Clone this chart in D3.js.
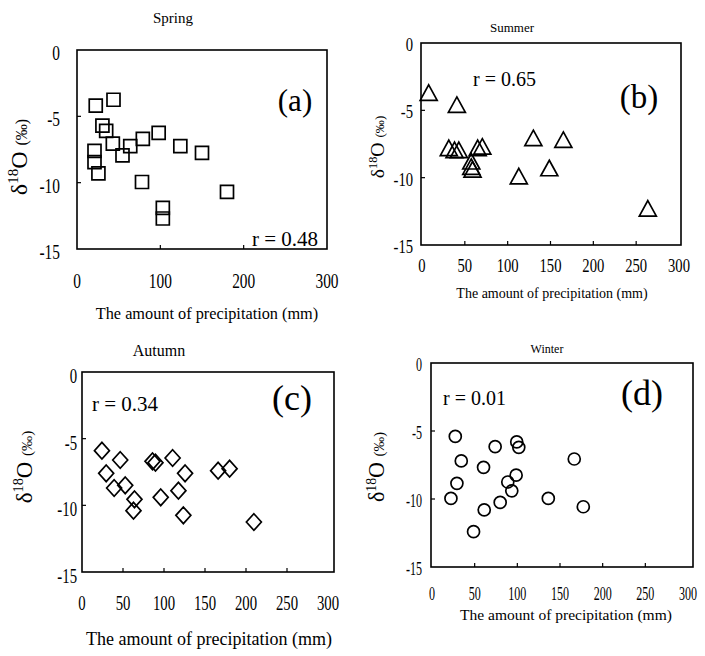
<!DOCTYPE html>
<html><head><meta charset="utf-8">
<script src="https://cdn.jsdelivr.net/npm/d3@7"></script>
<style>body{margin:0;background:#fff}svg{display:block}text{font-family:"Liberation Serif","Times New Roman",serif;fill:#000}</style>
</head><body><svg id="c" width="705" height="656"></svg>
<script>
// ---- data ----
const springX = [22.5, 43.8, 30.5, 35, 43, 54.6, 63.9, 79, 98, 124, 150, 21, 21, 25.7, 78, 103, 103, 180];
const springY = [-4.2, -3.75, -5.7, -6.1, -7.05, -7.95, -7.25, -6.7, -6.25, -7.25, -7.75, -7.6, -8.45, -9.3, -9.95, -11.9, -12.7, -10.7];
const summerX = [7.8, 40.7, 31.3, 38, 43, 65, 70.4, 57.5, 57.5, 59, 130, 165, 148.6, 113, 263.6];
const summerY = [-3.7, -4.6, -7.8, -7.95, -7.95, -7.8, -7.7, -8.8, -9.2, -9.4, -7.07, -7.2, -9.3, -9.9, -12.3];
const autumnX = [24.3, 29.5, 39.2, 46.6, 52.7, 64, 62.8, 86, 89.6, 96, 110.5, 117.6, 125.7, 123.6, 166, 180, 209.6];
const autumnY = [-5.9, -7.6, -8.7, -6.6, -8.5, -9.55, -10.4, -6.7, -6.8, -9.4, -6.45, -8.9, -7.6, -10.75, -7.4, -7.25, -11.25];
const winterX = [27.3, 34.3, 29.2, 22.2, 48.7, 60.4, 61.2, 74, 79.9, 88.8, 93.5, 99.3, 101.7, 98.6, 136.3, 166.7, 177.3];
const winterY = [-5.4, -7.2, -8.85, -9.96, -12.4, -7.67, -10.8, -6.15, -10.25, -8.75, -9.4, -5.8, -6.2, -8.25, -9.96, -7.06, -10.57];
const seasons = ["Spring", "Summer", "Autumn", "Winter"];
const rLabels = ["r = 0.48", "r = 0.65", "r = 0.34", "r = 0.01"];
const panelLetters = ["(a)", "(b)", "(c)", "(d)"];
const xTicksA = [0, 100, 200, 300];
const xTicks50 = [0, 50, 100, 150, 200, 250, 300];
const yTicks = [0, -5, -10, -15];
const xLabel = "The amount of precipitation (mm)";

// ---- layout ----
const svg = d3.select("#c");
const panels = [
  {xs: springX, ys: springY, xt: xTicksA, box: [77, 50, 327, 249], xr: [77, 327],
   tf: 22, tsx: 0.7, yTickRight: 60, yTickDy: 10, xTickBase: 288,
   title: [173, 23, 15], xl: [207, 319, 16.3], yl: [27, 157, 1.0],
   r: [252, 246, 21], let: [295, 111, 31], mark: "square"},
  {xs: summerX, ys: summerY, xt: xTicks50, box: [421, 43, 681, 245], xr: [422, 679],
   tf: 19, tsx: 0.77, yTickRight: 413, yTickDy: 8, xTickBase: 272,
   title: [512, 32, 13], xl: [552, 298, 14], yl: [384, 147, 0.82],
   r: [473, 86, 20], let: [639, 108, 33], mark: "triangle"},
  {xs: autumnX, ys: autumnY, xt: xTicks50, box: [82, 372, 334, 572], xr: [82, 328],
   tf: 22, tsx: 0.67, yTickRight: 77, yTickDy: 11, xTickBase: 610,
   title: [159, 356, 16], xl: [209, 645, 18], yl: [32, 467, 0.95],
   r: [92, 411, 21], let: [292, 410, 36], mark: "diamond"},
  {xs: winterX, ys: winterY, xt: xTicks50, box: [431, 363, 693, 567], xr: [432, 688],
   tf: 18, tsx: 0.67, yTickRight: 422, yTickDy: 8, xTickBase: 600,
   title: [547, 353, 12], xl: [566, 620, 15.5], yl: [384, 467, 0.92],
   r: [443, 405, 20], let: [642, 405, 36], mark: "circle"}
];

function condText(g, x, y, str, size, sx, anchor) {
  g.append("g").attr("transform", `translate(${x},${y})`)
    .append("text").attr("transform", `scale(${sx},1)`)
    .attr("text-anchor", anchor).attr("font-size", size).text(str);
}

panels.forEach((p, i) => {
  const [l, t, r, b] = p.box;
  const x = d3.scaleLinear().domain([0, 300]).range(p.xr);
  const y = d3.scaleLinear().domain([0, -15]).range([t, b]);
  const g = svg.append("g");

  // frame
  g.append("rect").attr("x", l).attr("y", t).attr("width", r - l).attr("height", b - t)
    .attr("fill", "none").attr("stroke", "#000").attr("stroke-width", 1.6);

  // inside ticks
  g.selectAll(".xt").data(p.xt.slice(1, -1)).join("line")
    .attr("x1", d => x(d)).attr("x2", d => x(d)).attr("y1", b).attr("y2", b - 4)
    .attr("stroke", "#000").attr("stroke-width", 1.2);
  g.selectAll(".yt").data(yTicks.slice(1, -1)).join("line")
    .attr("x1", l).attr("x2", l + 4).attr("y1", d => y(d)).attr("y2", d => y(d))
    .attr("stroke", "#000").attr("stroke-width", 1.2);

  // tick labels
  p.xt.forEach(d => condText(g, x(d), p.xTickBase, String(d), p.tf, p.tsx, "middle"));
  yTicks.forEach(d => condText(g, p.yTickRight, y(d) + p.yTickDy, String(d), p.tf, p.tsx, "end"));

  // title
  g.append("text").attr("x", p.title[0]).attr("y", p.title[1]).attr("font-size", p.title[2])
    .attr("text-anchor", "middle").text(seasons[i]);
  // x label
  g.append("text").attr("x", p.xl[0]).attr("y", p.xl[1]).attr("font-size", p.xl[2])
    .attr("text-anchor", "middle").text(xLabel);
  // y label
  const k = p.yl[2];
  const yt = g.append("text").attr("transform", `translate(${p.yl[0]},${p.yl[1]}) rotate(-90)`)
    .attr("text-anchor", "middle");
  yt.append("tspan").attr("font-size", 24 * k).text("δ");
  yt.append("tspan").attr("font-size", 15 * k).attr("dy", -9 * k).text("18");
  yt.append("tspan").attr("font-size", 24 * k).attr("dy", 9 * k).text("O ");
  yt.append("tspan").attr("font-size", 16 * k).text("(‰)");

  // r label
  g.append("text").attr("x", p.r[0]).attr("y", p.r[1]).attr("font-size", p.r[2]).text(rLabels[i]);
  // panel letter
  g.append("text").attr("x", p.let[0]).attr("y", p.let[1]).attr("font-size", p.let[2])
    .attr("text-anchor", "middle").text(panelLetters[i]);

  // markers
  const pts = p.xs.map((v, j) => [v, p.ys[j]]);
  const shape = {
    square: "M-6.5,-6.5H6.5V6.5H-6.5Z",
    triangle: "M0,-8L8.5,7.5H-8.5Z",
    diamond: "M0,-8.3L7.5,0L0,8.3L-7.5,0Z",
    circle: "M6,0A6,6 0 1,1 -6,0A6,6 0 1,1 6,0Z"
  }[p.mark];
  g.selectAll(".pt").data(pts).join("path")
    .attr("d", shape)
    .attr("transform", d => `translate(${x(d[0])},${y(d[1])})`)
    .attr("fill", "none").attr("stroke", "#000").attr("stroke-width", 1.7);
});
</script></body></html>
